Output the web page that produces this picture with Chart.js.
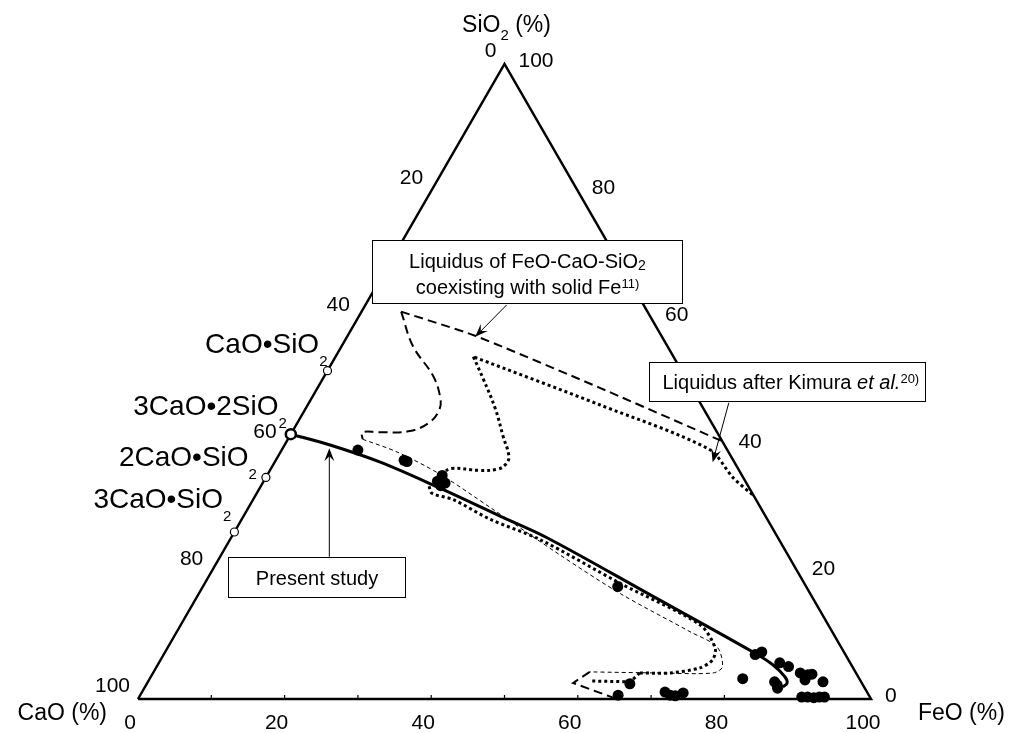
<!DOCTYPE html>
<html>
<head>
<meta charset="utf-8">
<script src="https://cdn.jsdelivr.net/npm/chart.js@4.4.1/dist/chart.umd.min.js"></script>
<style>
html, body { margin: 0; padding: 0; background: #fff; }
#wrap { width: 1014px; height: 733px; position: relative; }
</style>
</head>
<body>
<div id="wrap"><canvas id="ternary"></canvas></div>
<script>
// Ternary diagram FeO-CaO-SiO2 (mass %). Values stored as FeO / SiO2, CaO = 100 - FeO - SiO2
const FONT = '"Liberation Sans", Arial, Helvetica, sans-serif';
const R3 = Math.sqrt(3) / 2;

// axis ticks
const tickValues = [0, 20, 40, 60, 80, 100];
const baseTicks = [10, 20, 30, 40, 50, 60, 70, 80, 90];

// triangle outline: CaO, FeO, SiO2 corners
const edgeFeO = [0, 100, 0, 0];
const edgeSiO2 = [0, 0, 100, 0];

// calcium silicates on the CaO-SiO2 side
const compoundNames = ['CaO•SiO', '3CaO•2SiO', '2CaO•SiO', '3CaO•SiO'];
const compoundSiO2 = [51.7, 41.7, 34.9, 26.3];

// present study (solid line)
const presentFeO = [0, 6.2, 14.4, 24.6, 35.0, 43.1, 61.7, 80.2, 83.9, 86.5, 87.3, 87.0];
const presentSiO2 = [41.7, 40.0, 37.3, 33.2, 28.8, 25.4, 16.4, 7.4, 5.4, 3.5, 2.5, 1.9];

// liquidus coexisting with solid Fe (dashed)
const liqUpperFeO = [5.4, 17.4, 38.5, 59.4];
const liqUpperSiO2 = [61.0, 57.2, 49.0, 40.6];
const liqLobeFeO = [5.4, 9.7, 14.8, 17.35, 18.3, 18.0, 16.0, 12.0, 9.6, 10.2];
const liqLobeSiO2 = [61.0, 55.6, 50.9, 47.7, 45.7, 43.6, 42.2, 42.0, 42.0, 40.9];
const liqThinFeO = [10.2, 15.9, 23.5, 32.9, 46.2, 57.5, 70.0, 74.9, 77.2, 76.4, 69.2, 59.5];
const liqThinSiO2 = [40.9, 38.9, 35.4, 30.2, 22.7, 16.6, 10.6, 8.2, 5.06, 4.1, 4.1, 4.27];
const liqFootFeO = [59.5, 58.1, 65.3];
const liqFootSiO2 = [4.27, 2.53, 0];

// liquidus after Kimura et al. (dotted)
const kimUpperFeO = [67.7, 63.7, 58.3, 39.9, 18.8];
const kimUpperSiO2 = [32.2, 34.9, 39.3, 46.3, 53.9];
const kimLobeFeO = [18.8, 21.9, 25.9, 29.1, 31.5, 31.7, 31.0, 28.7, 24.6, 23.7];
const kimLobeSiO2 = [53.9, 50.4, 45.7, 41.4, 38.2, 37.0, 36.2, 36.0, 36.3, 35.5];
const kimLowerFeO = [22.95, 23.9, 27.3, 33.9, 42.3, 56.7, 70.8, 74.7, 75.3, 74.2, 70.5, 66.4];
const kimLowerSiO2 = [33.5, 32.4, 31.4, 28.3, 25.1, 18.2, 11.7, 8.06, 6.16, 4.9, 4.1, 4.1];
const kimFootFeO = [66.4, 65.8, 60.2];
const kimFootSiO2 = [4.1, 2.7, 2.84];

// measured slag compositions
const sampleFeO = [10.4, 17.5, 18.0, 23.9, 23.7, 24.9, 24.5, 56.6,
  81.4, 80.7, 84.7, 86.2, 80.9, 88.3, 89.5, 90.0, 89.5, 92.1, 85.5, 86.4, 86.1,
  90.4, 91.2, 92.1, 92.8, 93.5, 65.9, 65.2, 71.35, 72.3, 73.05, 73.9];
const sampleSiO2 = [39.2, 37.6, 37.4, 35.2, 34.3, 34.0, 33.6, 17.7,
  7.4, 7.0, 5.7, 5.1, 3.2, 4.1, 3.8, 3.9, 3.0, 2.7, 2.7, 1.7, 2.2,
  0.3, 0.3, 0.2, 0.3, 0.3, 2.4, 0.6, 1.1, 0.6, 0.5, 0.95];

function toXY(feo, sio2) {
    return { x: feo + sio2 / 2, y: sio2 * R3 };
}
function series(feo, sio2) {
    return feo.map((f, i) => toXY(f, sio2[i]));
}

function lineSet(data, width, dash, tension, order) {
    return {
        data: data,
        showLine: true,
        borderColor: '#000',
        backgroundColor: '#000',
        borderWidth: width,
        borderDash: dash,
        borderCapStyle: 'butt',
        tension: tension,
        pointRadius: 0,
        pointHoverRadius: 0,
        clip: false,
        order: order
    };
}

// annotation boxes, in chart units (x 0..100, y 0..86.6)
const notes = [
    { x1: 31.9, x2: 74.2, top: 62.6, bottom: 54.0 },
    { x1: 69.7, x2: 107.4, top: 46.0, bottom: 40.65 },
    { x1: 12.3, x2: 36.4, top: 19.4, bottom: 13.9 }
];
const arrows = [
    { x1: 50.3, y1: 53.75, x2: 46.0, y2: 49.4 },
    { x1: 80.6, y1: 40.4, x2: 78.4, y2: 32.3 },
    { x1: 26.1, y1: 19.4, x2: 26.1, y2: 34.2 }
];
// label offsets (px) of each compound name from its marker
const compoundOffsets = [[0, -18], [-4, -19], [-9, -11], [-3, -24]];

// text with sub/superscripts: parts = [{t, sub, sup, it}]
function richWidth(ctx, parts, size) {
    let w = 0;
    parts.forEach(p => {
        const s = (p.sub || p.sup) ? p.small || Math.round(size * 0.62) : size;
        ctx.font = (p.it ? 'italic ' : '') + s + 'px ' + FONT;
        w += ctx.measureText(p.t).width;
    });
    return w;
}
function drawRich(ctx, parts, x, y, align, size) {
    const w = richWidth(ctx, parts, size);
    let cx = align === 'right' ? x - w : align === 'center' ? x - w / 2 : x;
    ctx.textAlign = 'left';
    ctx.textBaseline = 'alphabetic';
    parts.forEach(p => {
        const s = (p.sub || p.sup) ? p.small || Math.round(size * 0.62) : size;
        ctx.font = (p.it ? 'italic ' : '') + s + 'px ' + FONT;
        const dy = p.sub ? (p.dy !== undefined ? p.dy : size * 0.3) : p.sup ? (p.dy !== undefined ? p.dy : -size * 0.35) : 0;
        ctx.fillText(p.t, cx, y + dy);
        cx += ctx.measureText(p.t).width;
    });
}

function drawArrow(ctx, x1, y1, x2, y2) {
    const ang = Math.atan2(y2 - y1, x2 - x1);
    const len = 13, half = 5;
    ctx.beginPath();
    ctx.moveTo(x1, y1);
    ctx.lineTo(x2 - Math.cos(ang) * 6, y2 - Math.sin(ang) * 6);
    ctx.stroke();
    ctx.beginPath();
    ctx.moveTo(x2, y2);
    ctx.lineTo(x2 - Math.cos(ang) * len - Math.sin(ang) * half, y2 - Math.sin(ang) * len + Math.cos(ang) * half);
    ctx.lineTo(x2 - Math.cos(ang) * 8, y2 - Math.sin(ang) * 8);
    ctx.lineTo(x2 - Math.cos(ang) * len + Math.sin(ang) * half, y2 - Math.sin(ang) * len - Math.cos(ang) * half);
    ctx.closePath();
    ctx.fill();
}

const decor = {
    id: 'decor',
    afterDatasetsDraw(chart) {
        const ctx = chart.ctx;
        const sx = chart.scales.x, sy = chart.scales.y;
        const P = (f, s) => {
            const q = toXY(f, s);
            return [sx.getPixelForValue(q.x), sy.getPixelForValue(q.y)];
        };
        ctx.save();
        ctx.fillStyle = '#000';
        ctx.strokeStyle = '#000';

        // small ticks on the FeO axis
        ctx.lineWidth = 1.2;
        baseTicks.forEach(v => {
            const [px, py] = P(v, 0);
            ctx.beginPath();
            ctx.moveTo(px, py);
            ctx.lineTo(px, py - 4);
            ctx.stroke();
        });

        // tick labels
        ctx.font = '21px ' + FONT;
        ctx.textBaseline = 'middle';
        tickValues.forEach(v => {
            let [px, py] = P(v, 0);
            ctx.textAlign = 'center';
            ctx.fillText(String(v), px - 8, py + 24);
            [px, py] = P(100 - v, v);
            ctx.textAlign = 'left';
            ctx.fillText(String(v), px + 14, py - 3);
            [px, py] = P(0, 100 - v);
            ctx.textAlign = 'right';
            ctx.fillText(String(v), px - 8, py - 13);
        });

        // axis titles
        let [tx, ty] = P(0, 100);
        drawRich(ctx, [{ t: 'SiO' }, { t: '2', sub: true, small: 15, dy: 8 }, { t: ' (%)' }], tx + 2, ty - 32, 'center', 23);
        [tx, ty] = P(0, 0);
        drawRich(ctx, [{ t: 'CaO (%)' }], tx - 31, ty + 21, 'right', 23);
        [tx, ty] = P(100, 0);
        drawRich(ctx, [{ t: 'FeO (%)' }], tx + 47, ty + 21, 'left', 23);

        // compound names
        compoundNames.forEach((name, i) => {
            const [px, py] = P(0, compoundSiO2[i]);
            const o = compoundOffsets[i];
            drawRich(ctx, [{ t: name }, { t: '2', sub: true, small: 15, dy: 13 }], px + o[0], py + o[1], 'right', 28);
        });

        // annotation boxes
        ctx.lineWidth = 1;
        const boxes = notes.map(n => {
            const b = {
                l: Math.round(sx.getPixelForValue(n.x1)) + 0.5,
                r: Math.round(sx.getPixelForValue(n.x2)) + 0.5,
                t: Math.round(sy.getPixelForValue(n.top)) + 0.5,
                b: Math.round(sy.getPixelForValue(n.bottom)) + 0.5
            };
            ctx.fillStyle = '#fff';
            ctx.fillRect(b.l, b.t, b.r - b.l, b.b - b.t);
            ctx.strokeRect(b.l, b.t, b.r - b.l, b.b - b.t);
            return b;
        });
        ctx.fillStyle = '#000';
        let b = boxes[0];
        let mid = (b.l + b.r) / 2;
        drawRich(ctx, [{ t: 'Liquidus of FeO-CaO-SiO' }, { t: '2', sub: true, small: 14, dy: 2 }], mid, b.t + 27, 'center', 20);
        drawRich(ctx, [{ t: 'coexisting with solid Fe' }, { t: '11)', sup: true, small: 13, dy: -6 }], mid, b.t + 53, 'center', 20);
        b = boxes[1];
        drawRich(ctx, [{ t: 'Liquidus after Kimura ' }, { t: 'et al.', it: true }, { t: '20)', sup: true, small: 13, dy: -6 }], b.l + 13, b.t + 26, 'left', 20);
        b = boxes[2];
        drawRich(ctx, [{ t: 'Present study' }], (b.l + b.r) / 2, (b.t + b.b) / 2 + 7, 'center', 20);

        // arrows
        ctx.lineWidth = 1;
        arrows.forEach(a => {
            drawArrow(ctx, sx.getPixelForValue(a.x1), sy.getPixelForValue(a.y1),
                sx.getPixelForValue(a.x2), sy.getPixelForValue(a.y2));
        });
        ctx.restore();
    }
};

const ctx = document.getElementById('ternary').getContext('2d');
const chart = new Chart(ctx, {
    type: 'scatter',
    data: {
        datasets: [
            lineSet(series(edgeFeO, edgeSiO2), 2.5, [], 0, 9),
            lineSet(series(presentFeO, presentSiO2), 3, [], 0.35, 5),
            lineSet(series(liqUpperFeO, liqUpperSiO2), 2, [9, 5], 0.2, 6),
            lineSet(series(liqLobeFeO, liqLobeSiO2), 2, [9, 5], 0.4, 6),
            lineSet(series(liqThinFeO, liqThinSiO2), 1, [4, 3], 0.3, 6),
            lineSet(series(liqFootFeO, liqFootSiO2), 2, [9, 5], 0, 6),
            lineSet(series(kimUpperFeO, kimUpperSiO2), 3, [3, 3], 0.3, 7),
            lineSet(series(kimLobeFeO, kimLobeSiO2), 3, [3, 3], 0.4, 7),
            lineSet(series(kimLowerFeO, kimLowerSiO2), 3, [3, 3], 0.3, 7),
            lineSet(series(kimFootFeO, kimFootSiO2), 3, [3, 3], 0, 7),
            {
                data: series(sampleFeO, sampleSiO2),
                pointRadius: 5.5,
                pointHoverRadius: 5.5,
                backgroundColor: '#000',
                borderColor: '#000',
                borderWidth: 0,
                clip: false,
                order: 1
            },
            {
                data: compoundSiO2.map(s => toXY(0, s)).filter((p, i) => i !== 1),
                pointRadius: 4,
                pointHoverRadius: 4,
                backgroundColor: '#fff',
                borderColor: '#000',
                borderWidth: 1.2,
                clip: false,
                order: 2
            },
            {
                data: [toXY(0, compoundSiO2[1])],
                pointRadius: 5,
                pointHoverRadius: 5,
                backgroundColor: '#fff',
                borderColor: '#000',
                borderWidth: 2.5,
                clip: false,
                order: 2
            }
        ]
    },
    options: {
        responsive: true,
        maintainAspectRatio: false,
        animation: false,
        events: [],
        layout: { padding: { left: 138, right: 143, top: 64, bottom: 34 } },
        scales: {
            x: { type: 'linear', min: 0, max: 100, display: false },
            y: { type: 'linear', min: 0, max: 100 * R3, display: false }
        },
        plugins: {
            legend: { display: false },
            tooltip: { enabled: false }
        }
    },
    plugins: [decor]
});
</script>
</body>
</html>
